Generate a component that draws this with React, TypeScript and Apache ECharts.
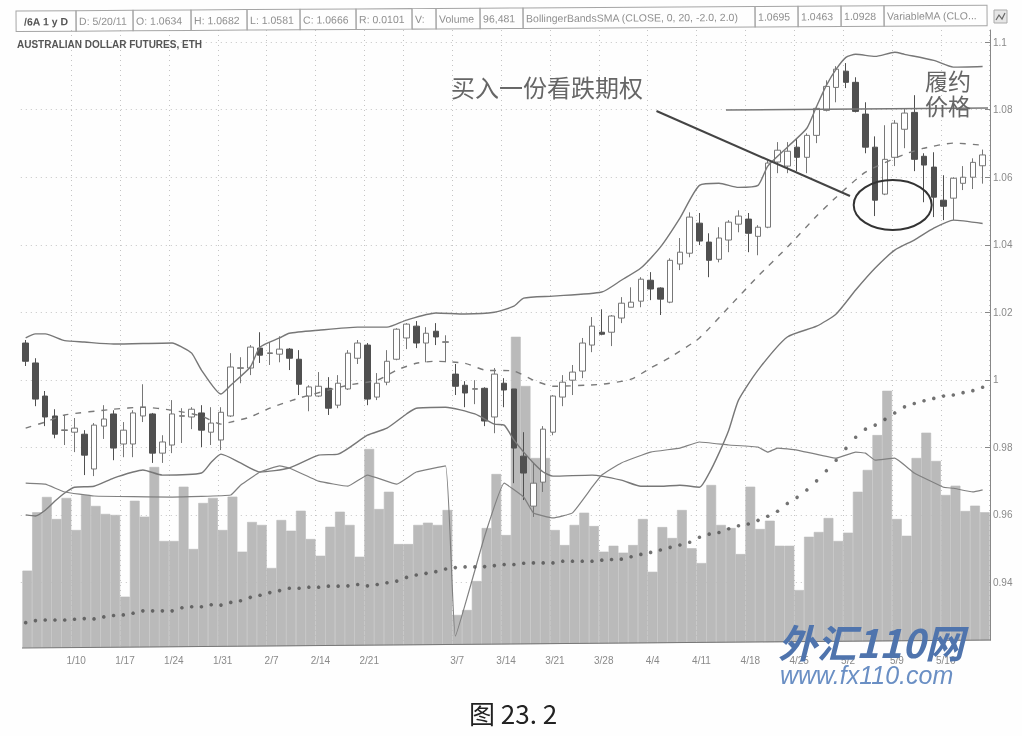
import React, { useEffect, useRef } from "react";
import * as echarts from "echarts";

const dates = [
  "1/3","1/4","1/5","1/6","1/7","1/10","1/11","1/12","1/13","1/14","1/17","1/18","1/19","1/20","1/21",
  "1/24","1/25","1/26","1/27","1/28","1/31","2/1","2/2","2/3","2/4","2/7","2/8","2/9","2/10","2/11",
  "2/14","2/15","2/16","2/17","2/18","2/21","2/22","2/23","2/24","2/28","3/1","3/2","3/3","3/4",
  "3/7","3/8","3/9","3/10","3/11","3/14","3/15","3/16","3/17","3/18","3/21","3/22","3/23","3/24","3/25",
  "3/28","3/29","3/30","3/31","4/1","4/4","4/5","4/6","4/7","4/8","4/11","4/12","4/13","4/14","4/15",
  "4/18","4/19","4/20","4/21","4/22","4/25","4/26","4/27","4/28","4/29","5/2","5/3","5/4","5/5","5/6",
  "5/9","5/10","5/11","5/12","5/13","5/16","5/17","5/18","5/19","5/20",
];
const weekTicks = ["1/10","1/17","1/24","1/31","2/7","2/14","2/21","2/28","3/7","3/14","3/21","3/28","4/4","4/11","4/18","4/25","5/2","5/9","5/16"];
const unlabelledTicks = ["2/28"];

// open, close, low, high
const candles = [
  [1.0109,1.0055,1.0041,1.0118],[1.005,0.9943,0.9922,1.0064],[0.9952,0.989,0.9863,0.9967],[0.9893,0.9839,0.9827,0.9913],
  [0.985,0.9852,0.9807,0.9896],[0.9845,0.9857,0.9786,0.9887],[0.9839,0.9777,0.9718,0.9851],[0.9736,0.9866,0.9715,0.9872],
  [0.9863,0.9884,0.9825,0.9925],[0.9899,0.9798,0.9762,0.991],[0.981,0.9851,0.9771,0.9875],[0.981,0.9902,0.9771,0.991],
  [0.9893,0.9919,0.9875,0.9987],[0.9899,0.9783,0.9754,0.9902],[0.9783,0.9816,0.9754,0.9836],[0.9807,0.9899,0.9783,0.994],
  [0.9892,0.9894,0.9813,0.9916],[0.989,0.9913,0.9854,0.9919],[0.9902,0.9851,0.9801,0.9925],[0.9845,0.9872,0.9807,0.9919],
  [0.9822,0.9904,0.9792,0.9919],[0.9893,1.0038,0.989,1.0079],[1.0034,1.0036,0.999,1.0067],[1.0035,1.0097,1.0014,1.0103],
  [1.0094,1.0073,1.005,1.0141],[1.0078,1.008,1.0044,1.0112],[1.0076,1.0091,1.0052,1.0129],[1.0091,1.0064,1.0029,1.0094],
  [1.0061,0.9987,0.9955,1.0088],[0.9952,0.9979,0.9907,0.9984],[0.9952,0.9981,0.9949,1.0023],[0.9975,0.9916,0.9896,1.0008],
  [0.9925,0.999,0.9916,1.0014],[0.9973,1.0079,0.997,1.0088],[1.0064,1.0109,1.0047,1.0118],[1.0103,0.9943,0.9925,1.0109],
  [0.9949,0.999,0.994,1.002],[0.9993,1.0055,0.9984,1.0088],[1.0061,1.015,1.0058,1.0153],[1.0124,1.0165,1.0091,1.0168],
  [1.0159,1.0109,1.0094,1.0174],[1.0109,1.0138,1.0052,1.0156],[1.0144,1.0127,1.0103,1.0168],[1.0111,1.0113,1.0052,1.0132],
  [1.0017,0.9981,0.9955,1.0047],[0.9984,0.9961,0.9919,0.9996],[0.9972,0.9974,0.9928,0.9999],[0.9975,0.9878,0.9863,0.9978],
  [0.989,1.0017,0.9842,1.0035],[0.999,0.997,0.9919,1.0005],[0.9973,0.9798,0.9694,0.9973],[0.9774,0.9724,0.9644,0.9845],
  [0.9626,0.9694,0.9594,0.9754],[0.9697,0.9854,0.9668,0.9863],[0.9845,0.9952,0.9836,0.9955],[0.9949,0.9993,0.9922,1.0014],
  [0.9999,1.0023,0.9955,1.0044],[1.0026,1.0109,1.0005,1.0124],[1.0103,1.0159,1.0082,1.0186],[1.0141,1.0135,1.0132,1.0209],
  [1.0141,1.0189,1.01,1.0192],[1.0183,1.0227,1.0168,1.0245],[1.0215,1.023,1.0215,1.0274],[1.0233,1.0298,1.0215,1.0304],
  [1.0295,1.0269,1.0236,1.0319],[1.0272,1.0239,1.0192,1.0274],[1.023,1.0354,1.0227,1.036],[1.0343,1.0378,1.0325,1.042],
  [1.0375,1.0482,1.0363,1.0496],[1.0464,1.0411,1.0399,1.0494],[1.0408,1.0354,1.0304,1.0434],[1.0357,1.042,1.0348,1.0452],
  [1.0414,1.0467,1.0378,1.0473],[1.0461,1.0485,1.0437,1.0502],[1.0476,1.0434,1.0378,1.0494],[1.0425,1.0452,1.0369,1.0458],
  [1.0452,1.0642,1.0449,1.065],[1.0645,1.068,1.0612,1.0704],[1.0633,1.0677,1.0612,1.0704],[1.0689,1.0659,1.0618,1.0716],
  [1.0659,1.0724,1.0612,1.073],[1.0724,1.0804,1.0701,1.0807],[1.0798,1.0869,1.0795,1.0887],[1.0866,1.092,1.0822,1.0929],
  [1.0914,1.0881,1.0864,1.0938],[1.0881,1.0795,1.0792,1.0896],[1.0787,1.0689,1.0671,1.0822],[1.0689,1.0532,1.0485,1.0721],
  [1.055,1.0653,1.0547,1.0754],[1.0659,1.076,1.0633,1.0769],[1.0742,1.079,1.0686,1.0804],[1.0792,1.0653,1.0618,1.0843],
  [1.0662,1.0636,1.0526,1.0671],[1.063,1.0541,1.0482,1.0674],[1.0532,1.0514,1.0473,1.0606],[1.0538,1.0597,1.0473,1.06],
  [1.0582,1.06,1.0562,1.0633],[1.06,1.0644,1.0565,1.0656],[1.0634,1.0666,1.0581,1.0682],
];

// thousands of contracts
const volume = [
  55,96.5,107.4,91.7,106.7,83.9,108.8,101,95.3,94.6,36.5,104.7,93.4,128.7,76.1,76.1,114.7,70.4,103.1,106.7,
  83.9,107.6,68.5,89.6,87.5,56.9,91,83.4,97.6,77.5,65.6,86.2,96.9,87.5,64.9,141.5,98.8,111.1,73.9,73.9,
  87.5,89.1,87.5,98.1,23.5,27,47.6,85.3,123.7,80.3,221.3,186.3,135.1,135.1,83.9,73.2,87.5,96.2,86.7,68.5,
  72.7,67.8,73.2,91.7,54.2,86,78.2,98.1,70.9,60.4,115.9,87.5,85.3,66.8,114.7,84.6,90.5,72.7,72.7,41.2,
  79.1,82.5,92.4,76.1,82,111.1,126.6,151.4,182.9,91.7,79.8,135.1,153.1,133,108.8,115.4,97.4,101.2,96.5,
];

const bollingerUpper = [
  [0,1.0124],[1,1.0136],[2,1.0136],[4,1.0116],[6,1.0112],[9,1.0106],[15,1.0109],[16,1.0097],[17,1.0079],[18,1.0029],
  [20,0.9958],[21,0.9984],[23,1.0038],[24,1.0097],[26,1.0124],[27,1.0138],[30,1.0147],[34,1.0156],[37,1.0156],[39,1.0177],
  [42,1.0198],[45,1.0195],[48,1.02],[50,1.0218],[51,1.0242],[54,1.0248],[59,1.026],[61,1.0295],[63,1.0331],[65,1.0393],
  [67,1.0479],[69,1.0576],[71,1.0582],[73,1.057],[75,1.0576],[76,1.0633],[78,1.0689],[80,1.0745],[81,1.081],[82,1.0872],
  [83,1.092],[84,1.0955],[85,1.0964],[87,1.0958],[89,1.097],[90,1.0964],[93,1.0946],[95,1.0926],[98,1.0928],
];
const bollingerMiddle = [
  [0,0.9857],[2,0.9875],[4,0.9896],[9,0.9913],[12,0.9919],[15,0.991],[18,0.9893],[20,0.9869],[21,0.9875],[23,0.989],
  [25,0.9916],[28,0.9946],[33,0.9984],[36,0.9999],[38,1.0029],[40,1.0049],[42,1.0055],[45,1.0049],[47,1.0029],[50,1.0026],
  [52,0.9999],[54,0.9981],[59,0.9987],[62,1.0002],[64,1.0035],[66,1.0067],[69,1.0124],[72,1.0215],[75,1.0307],[78,1.0393],
  [81,1.0485],[83,1.0541],[86,1.0615],[90,1.0668],[92,1.0686],[95,1.0701],[98,1.0695],
];
const bollingerLower = [
  [0,0.96],[1,0.9597],[2,0.9614],[3,0.9641],[4,0.9665],[5,0.9682],[7,0.9685],[9,0.9709],[11,0.9727],[12,0.9733],
  [14,0.9718],[18,0.9724],[19,0.9756],[20,0.978],[22,0.9754],[24,0.9727],[27,0.9739],[30,0.9777],[32,0.978],[35,0.9836],
  [37,0.9857],[39,0.9899],[40,0.9916],[43,0.9919],[46,0.9899],[48,0.9869],[49,0.9866],[50,0.9822],[51,0.9786],[52,0.9754],
  [53,0.9727],[54,0.9715],[58,0.9718],[61,0.9703],[63,0.9685],[65,0.9685],[67,0.9688],[69,0.9682],[70,0.9724],[71,0.9783],
  [72,0.9851],[73,0.994],[75,1.0029],[78,1.0127],[81,1.0159],[83,1.0195],[85,1.0266],[87,1.0331],[89,1.0384],[91,1.0414],
  [93,1.0449],[95,1.0473],[98,1.0463],
];
const thinIndicator = [
  [0,0.9694],[2,0.9691],[4,0.9668],[7,0.9656],[15,0.9653],[21,0.9659],[22,0.9688],[24,0.9727],[26,0.9745],[27,0.9739],
  [30,0.97],[33,0.9685],[35,0.9718],[38,0.9691],[40,0.9727],[43,0.9745],[44,0.9241],[47,0.9537],[49,0.9694],[51,0.9653],
  [52,0.9606],[54,0.9591],[56,0.9606],[58,0.9682],[59,0.9718],[61,0.9754],[64,0.9786],[67,0.9798],[69,0.9816],[72,0.9807],
  [75,0.9801],[76,0.9786],[77,0.9798],[79,0.9792],[83,0.9768],[85,0.9786],[86,0.9783],[87,0.9762],[89,0.9768],[91,0.9724],
  [94,0.9682],[95,0.9679],[97,0.9668],[98,0.9674],
];
const variableMA = [
  0.9281,0.9287,0.9289,0.9289,0.9289,0.9291,0.9293,0.9292,0.9298,0.9302,0.9304,0.9309,0.9316,0.9316,0.9316,0.9316,
  0.9325,0.9328,0.9328,0.9334,0.9333,0.9341,0.9346,0.9356,0.9362,0.937,0.9376,0.9383,0.9383,0.9386,0.9386,0.9389,0.9389,
  0.939,0.9394,0.939,0.9394,0.9399,0.9404,0.9415,0.9422,0.9427,0.9432,0.944,0.9444,0.9446,0.9446,0.9447,0.945,0.9453,0.9453,
  0.9457,0.9458,0.9458,0.9458,0.9463,0.9463,0.9463,0.9463,0.9466,0.9468,0.9469,0.9476,0.9483,0.9489,0.9496,0.9504,
  0.9511,0.9519,0.9534,0.9543,0.9548,0.9559,0.9568,0.9573,0.9584,0.9596,0.9611,0.9634,0.9652,0.9674,0.9701,0.9731,
  0.9762,0.9797,0.983,0.9854,0.9866,0.9883,0.9902,0.992,0.993,0.9938,0.9945,0.9952,0.9955,0.9962,0.9968,0.9978,
];

const headerLabels = [
  "/6A 1 y D","D: 5/20/11","O: 1.0634","H: 1.0682","L: 1.0581","C: 1.0666","R: 0.0101","V:","Volume","96,481",
  "BollingerBandsSMA (CLOSE, 0, 20, -2.0, 2.0)","1.0695","1.0463","1.0928","VariableMA (CLO...",
];
const headerCellWidths = [60,57,58,56,53,56,56,24,44,43,232,43,43,43,103];
const chartTitle = "AUSTRALIAN DOLLAR FUTURES, ETH";
const buyPutNote = "买入一份看跌期权";
const strikeNote = ["履约", "价格"];
const figureCaption = "图 23. 2";
const watermarkName = "外汇110网";
const watermarkUrl = "www.fx110.com";

const SANS = '"Liberation Sans", Arial, sans-serif';
const CJK = '"Noto Sans CJK SC", sans-serif';

function headerChildren() {
  const out: any[] = [];
  let x = 0;
  headerLabels.forEach((label, i) => {
    const w = headerCellWidths[i];
    out.push({ type: "rect", z: 100, shape: { x, y: 0, width: w, height: 20.5 }, style: { fill: "none", stroke: "#a5a5a5", lineWidth: 1 }, silent: true });
    out.push({
      type: "text", z: 100, x: x + (i === 0 ? 8 : 3), y: 10.5, silent: true,
      style: {
        text: label, fill: i === 0 ? "#555" : "#8f8f8f",
        font: `${i === 0 ? "bold " : ""}10.5px ${SANS}`, verticalAlign: "middle", align: "left",
      },
    });
    x += w;
  });
  return out;
}

export default function App() {
  const ref = useRef<HTMLDivElement>(null);
  useEffect(() => {
    document.body.style.margin = "0";
    const chart = echarts.init(ref.current!, undefined, { renderer: "svg" });
    const dotted = { color: "#c4c4c4", type: [1, 4] as any, width: 1 };
    const lineBase = { type: "line", xAxisIndex: 0, yAxisIndex: 0, showSymbol: false, symbol: "none", z: 4, smooth: 0.2, silent: true };
    const tickAt = (_: number, v: string) => weekTicks.includes(v);
    chart.setOption({
      animation: false,
      backgroundColor: "#fefefe",
      grid: [
        { left: 20.8, width: 966.7, top: 30, height: 620 },
        { left: 22.4, width: 967.3, top: 30, height: 618 },
      ],
      xAxis: [
        { type: "category", gridIndex: 0, data: dates, show: false },
        {
          type: "category", gridIndex: 1, data: dates, position: "bottom",
          axisLine: { show: false },
          axisTick: { inside: true, length: 5, interval: tickAt, lineStyle: { color: "#777" } },
          splitLine: { show: true, interval: tickAt, lineStyle: dotted },
          axisLabel: {
            interval: (i: number, v: string) => weekTicks.includes(v) && !unlabelledTicks.includes(v),
            color: "#8a8a8a", fontSize: 10, fontFamily: SANS, margin: 7,
          },
        },
        {
          type: "category", gridIndex: 1, data: dates, position: "top",
          axisLine: { show: false }, axisLabel: { show: false },
          axisTick: { inside: true, length: 4, interval: tickAt, lineStyle: { color: "#999" } },
        },
      ],
      yAxis: [
        {
          type: "value", gridIndex: 0, position: "right", min: 0.92, max: 1.1036, interval: 0.02, offset: 2.5,
          axisLine: { show: true, lineStyle: { color: "#888", width: 1 } },
          axisTick: { show: true, inside: true, length: 5, lineStyle: { color: "#888" } },
          axisLabel: { color: "#8a8a8a", fontSize: 10, fontFamily: SANS, margin: 3, showMinLabel: false, showMaxLabel: false, formatter: (v: number) => String(+v.toFixed(2)) },
          splitLine: { show: true, showMinLine: false, showMaxLine: false, lineStyle: dotted },
        },
        { type: "value", gridIndex: 1, min: 0, max: 439.4, show: false, splitLine: { show: false } },
      ],
      series: [
        { type: "bar", name: "Volume", xAxisIndex: 1, yAxisIndex: 1, data: volume, barWidth: "100%", z: 1, silent: true, itemStyle: { color: "#bababa", borderColor: "#bababa", borderWidth: 0.6 } },
        {
          type: "candlestick", name: "/6A", xAxisIndex: 0, yAxisIndex: 0, data: candles, barWidth: 6, z: 3, silent: true,
          itemStyle: { color: "#fff", color0: "#505050", borderColor: "#777", borderColor0: "#505050", borderWidth: 1 },
        },
        { ...lineBase, name: "Upper", data: bollingerUpper, lineStyle: { color: "#777", width: 1.4 } },
        { ...lineBase, name: "Middle", data: bollingerMiddle, lineStyle: { color: "#7a7a7a", width: 1.4, type: [6, 7] } },
        { ...lineBase, name: "Lower", data: bollingerLower, lineStyle: { color: "#777", width: 1.4 } },
        { ...lineBase, name: "Thin", data: thinIndicator, smooth: 0.1, lineStyle: { color: "#808080", width: 1.2 } },
        { type: "scatter", name: "VariableMA", xAxisIndex: 0, yAxisIndex: 0, data: variableMA, symbol: "circle", symbolSize: 3.6, z: 4, silent: true, itemStyle: { color: "#4f4f4f" } },
      ],
      graphic: [
        // sloped lower edge of the scanned page
        { type: "polygon", z: 90, silent: true, shape: { points: [[21, 648.5], [991, 640.5], [991, 652], [21, 652]] }, style: { fill: "#fefefe" } },
        { type: "line", z: 91, silent: true, shape: { x1: 22, y1: 648, x2: 991, y2: 640 }, style: { stroke: "#777", lineWidth: 1 } },
        { type: "group", x: 16, y: 11, rotation: 0.0065, silent: true, children: headerChildren() },
        { type: "text", z: 100, x: 17, y: 44, silent: true, style: { text: chartTitle, fill: "#555", font: `bold 10px ${SANS}`, verticalAlign: "middle" } },
        { type: "rect", z: 100, silent: true, shape: { x: 994, y: 10, width: 13, height: 13 }, style: { fill: "#e6e6e6", stroke: "#aaa", lineWidth: 1 } },
        { type: "polyline", z: 100, silent: true, shape: { points: [[996, 20], [999, 15], [1002, 19], [1005, 13]] }, style: { stroke: "#666", lineWidth: 1.2, fill: "none" } },
        { type: "text", z: 100, x: 451, y: 86, silent: true, style: { text: buyPutNote, fill: "#666", font: `24px ${CJK}`, verticalAlign: "middle" } },
        { type: "line", z: 100, silent: true, shape: { x1: 656.5, y1: 111, x2: 850, y2: 196 }, style: { stroke: "#444", lineWidth: 2 } },
        { type: "line", z: 100, silent: true, shape: { x1: 726, y1: 110, x2: 988, y2: 108 }, style: { stroke: "#777", lineWidth: 1.5 } },
        { type: "text", z: 100, x: 925, y: 80, silent: true, style: { text: strikeNote[0], fill: "#666", font: `23px ${CJK}`, verticalAlign: "middle" } },
        { type: "text", z: 100, x: 925, y: 105, silent: true, style: { text: strikeNote[1], fill: "#666", font: `23px ${CJK}`, verticalAlign: "middle" } },
        { type: "ellipse", z: 100, silent: true, shape: { cx: 892.7, cy: 205, rx: 39, ry: 25 }, style: { fill: "none", stroke: "#333", lineWidth: 2 } },
        { type: "text", z: 100, x: 469, y: 712, silent: true, style: { text: figureCaption, fill: "#222", font: `26px ${CJK}`, verticalAlign: "middle" } },
        { type: "text", z: 100, x: 778, y: 641, silent: true, style: { text: watermarkName, fill: "#4f74ad", font: `italic bold 39px ${CJK}`, verticalAlign: "middle" } },
        { type: "text", z: 100, x: 780, y: 675, silent: true, style: { text: watermarkUrl, fill: "#6a8fc4", font: `italic 25px ${SANS}`, verticalAlign: "middle" } },
      ],
    });
    return () => chart.dispose();
  }, []);
  return <div ref={ref} style={{ position: "absolute", left: 0, top: 0, width: 1022, height: 736, filter: "blur(0.5px)" }} />;
}
